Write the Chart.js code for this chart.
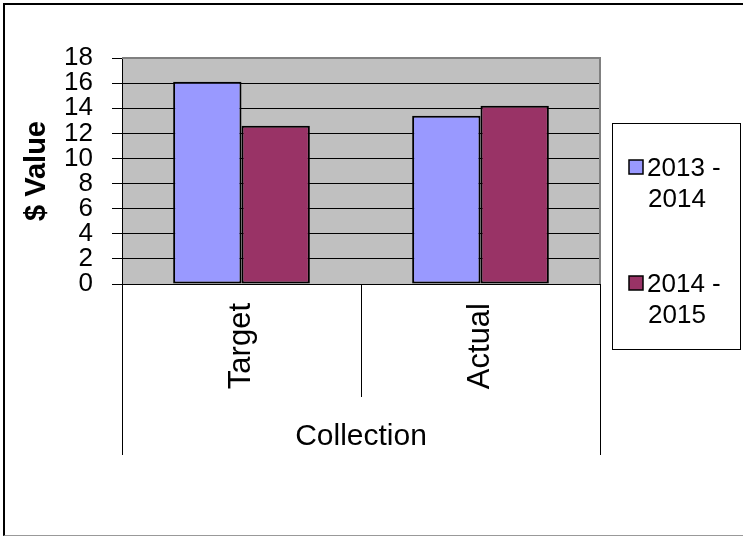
<!DOCTYPE html>
<html><head><meta charset="utf-8">
<script src="https://cdn.jsdelivr.net/npm/chart.js@4"></script>
<style>
html,body{margin:0;padding:0;background:#fff;overflow:hidden}
#wrap{position:relative;width:743px;height:537px;overflow:hidden}
#frame{position:absolute;left:3px;top:3px;width:780px;height:530px;border-left:2px solid #000;border-top:2px solid #000;border-bottom:1px solid #999}
canvas{position:absolute;left:0;top:0}
</style></head><body>
<div id="wrap"><div id="frame"></div><canvas id="c" width="743" height="537"></canvas></div>
<script>
const categories = ['Target', 'Actual'];
const seriesLabels = ['2013 - 2014', '2014 - 2015'];
const values2013 = [16.1, 13.4];
const values2014 = [12.6, 14.2];
const seriesColors = ['#9999FF', '#993366'];
const yMin = 0, yMax = 18, yStep = 2;
const xTitle = 'Collection';
const yTitle = '$ Value';

const F = "'Liberation Sans', Arial, sans-serif";

const deco = {
  id: 'deco',
  beforeDraw(chart) {
    const {ctx, chartArea: a} = chart;
    ctx.save();
    ctx.fillStyle = '#C0C0C0';
    ctx.fillRect(a.left, a.top, a.right - a.left, a.bottom - a.top);
    ctx.restore();
  },
  afterDraw(chart) {
    const {ctx, chartArea: a} = chart;
    const xs = chart.scales.x;
    ctx.save();
    ctx.strokeStyle = '#808080';
    ctx.lineWidth = 2;
    ctx.beginPath();
    ctx.moveTo(a.left, a.top); ctx.lineTo(a.right, a.top); ctx.lineTo(a.right, a.bottom);
    ctx.stroke();
    ctx.strokeStyle = '#000';
    ctx.lineWidth = 1;
    const mid = (xs.getPixelForTick(0) + xs.getPixelForTick(1)) / 2;
    ctx.beginPath();
    ctx.moveTo(Math.round(a.left) + 0.5, a.bottom); ctx.lineTo(Math.round(a.left) + 0.5, 455);
    ctx.moveTo(Math.round(a.right) + 0.5, a.bottom); ctx.lineTo(Math.round(a.right) + 0.5, 455);
    ctx.moveTo(Math.round(mid) + 0.5, a.bottom); ctx.lineTo(Math.round(mid) + 0.5, 397);
    ctx.stroke();
    const lx = 612, ly = 123, lw = 128, lh = 226;
    ctx.strokeStyle = '#000';
    ctx.lineWidth = 1;
    ctx.strokeRect(lx + 0.5, ly + 0.5, lw, lh);
    ctx.font = '26px ' + F;
    ctx.textBaseline = 'alphabetic';
    ctx.textAlign = 'left';
    chart.data.datasets.forEach((ds, i) => {
      const base = 176 + i * 116;
      const sy = base - 16;
      ctx.fillStyle = ds.backgroundColor;
      ctx.fillRect(629, sy, 14, 14);
      ctx.strokeStyle = '#000';
      ctx.lineWidth = 1.5;
      ctx.strokeRect(629, sy, 14, 14);
      const parts = ds.label.split(' - ');
      ctx.fillStyle = '#000';
      ctx.fillText(parts[0] + ' -', 647, base);
      ctx.fillText(parts[1], 648, base + 31);
    });
    ctx.restore();
  }
};

new Chart(document.getElementById('c'), {
  type: 'bar',
  data: {
    labels: categories,
    datasets: [
      {label: seriesLabels[0], data: values2013, backgroundColor: seriesColors[0], borderColor: '#000', borderWidth: 2, borderSkipped: false},
      {label: seriesLabels[1], data: values2014, backgroundColor: seriesColors[1], borderColor: '#000', borderWidth: 2, borderSkipped: false}
    ]
  },
  options: {
    responsive: false,
    animation: false,
    devicePixelRatio: 1,
    categoryPercentage: 0.572,
    barPercentage: 1.0,
    layout: {padding: {left: 0, top: 58, right: 143, bottom: 0}},
    plugins: {legend: {display: false}, tooltip: {enabled: false}},
    scales: {
      x: {
        type: 'category',
        grid: {display: false, drawTicks: false},
        border: {display: false},
        ticks: {minRotation: 90, maxRotation: 90, padding: 19, color: '#000', font: {family: F, size: 31}},
        title: {display: true, text: xTitle, color: '#000', font: {family: F, size: 30}, padding: {top: 0, bottom: 82}},
        afterFit(s) { s.height = 253; }
      },
      y: {
        min: yMin, max: yMax,
        ticks: {stepSize: yStep, autoSkip: false, padding: 19, color: '#000', font: {family: F, size: 26}},
        grid: {
          color: c => (c.tick && c.tick.value === yMax) ? '#808080' : '#000',
          lineWidth: 1, tickLength: 10, drawTicks: true, tickColor: '#000', tickWidth: 1
        },
        border: {color: '#000', width: 1},
        title: {display: true, text: yTitle, color: '#000', font: {family: F, size: 29, weight: 'bold'}, padding: {top: 20, bottom: 0}},
        afterFit(s) { s.width = 122; }
      }
    }
  },
  plugins: [deco]
});
</script>
</body></html>
